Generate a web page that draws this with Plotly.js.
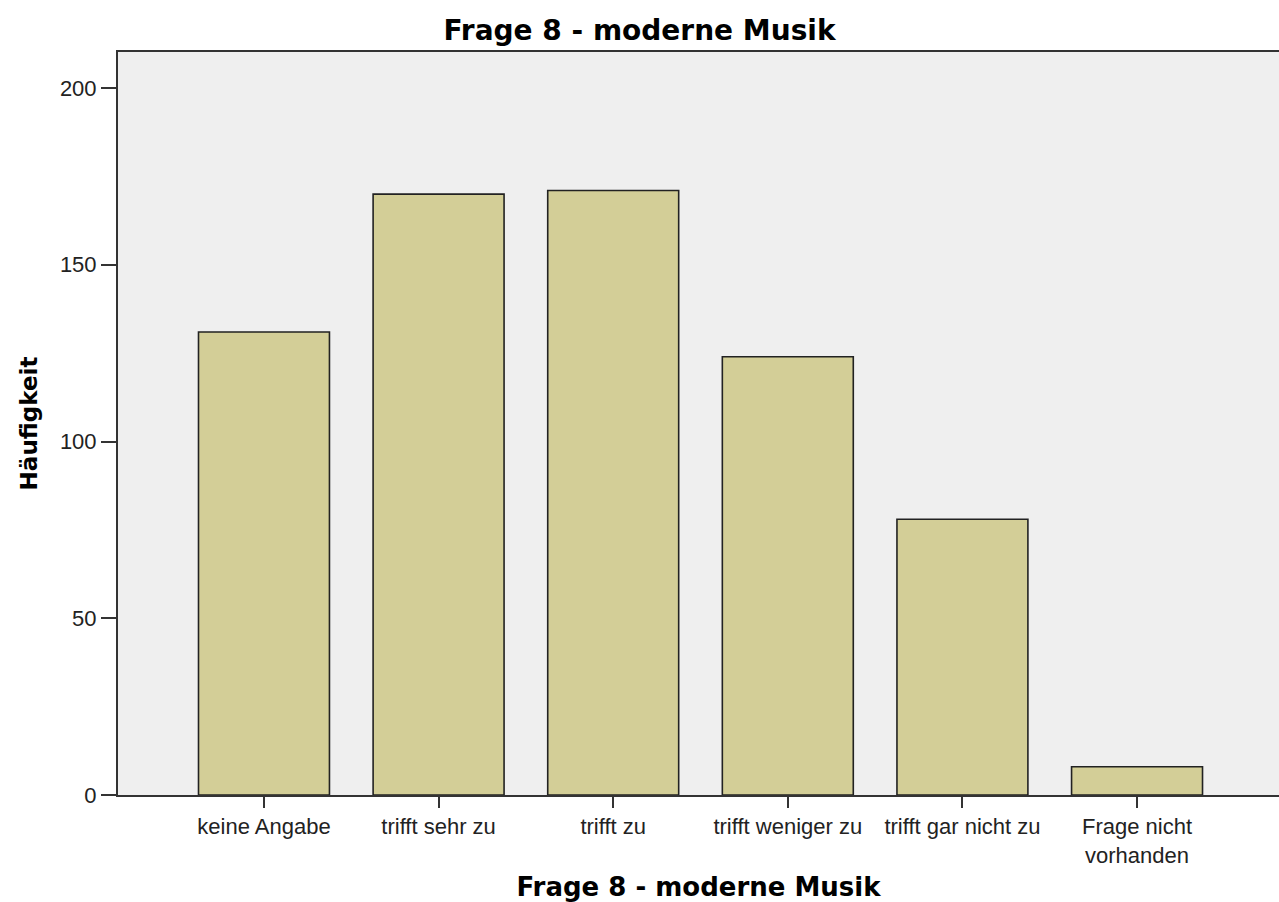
<!DOCTYPE html>
<html>
<head>
<meta charset="utf-8">
<script src="https://cdn.plot.ly/plotly-3.0.1.min.js"></script>
<style>
  html, body { margin: 0; padding: 0; background: #ffffff; }
  #chart { width: 1279px; height: 902px; }
</style>
</head>
<body>
<div id="chart"></div>
<script>
const categories = [
  "keine Angabe",
  "trifft sehr zu",
  "trifft zu",
  "trifft weniger zu",
  "trifft gar nicht zu",
  "Frage nicht<br>vorhanden"
];
const frequencies = [131, 170, 171, 124, 78, 8];
const yTickValues = [0, 50, 100, 150, 200];
const chartTitle = "Frage 8 - moderne Musik";
const xTitle = "Frage 8 - moderne Musik";
const yTitle = "Häufigkeit";

const trace = {
  type: "bar",
  x: categories,
  y: frequencies,
  width: 0.75,
  marker: {
    color: "#d3ce97",
    line: { color: "#222222", width: 1.6 }
  },
  hoverinfo: "x+y"
};

const layout = {
  width: 1279,
  height: 902,
  margin: { l: 118, r: 0, t: 52, b: 107, pad: 0 },
  paper_bgcolor: "#ffffff",
  plot_bgcolor: "#efefef",
  showlegend: false,
  title: {
    text: chartTitle,
    font: { family: "DejaVu Sans", size: 28, color: "#000000", weight: "bold" },
    x: 0.5, xanchor: "center", xref: "container",
    y: 1 - 30 / 902, yref: "container", yanchor: "middle"
  },
  xaxis: {
    type: "category",
    range: [-0.836, 5.813],
    showgrid: false,
    zeroline: false,
    showline: true,
    linecolor: "#333333",
    linewidth: 2,
    mirror: true,
    ticks: "outside",
    ticklen: 11,
    tickwidth: 1.5,
    tickcolor: "#333333",
    tickfont: { family: "Liberation Sans, Arial, sans-serif", size: 22, color: "#222222" },
    title: {
      text: xTitle,
      font: { family: "DejaVu Sans", size: 26, color: "#000000", weight: "bold" },
      standoff: 18
    },
    automargin: false
  },
  yaxis: {
    range: [0, 210.2],
    tickvals: yTickValues,
    ticktext: yTickValues.map(String),
    showgrid: false,
    zeroline: false,
    showline: true,
    linecolor: "#333333",
    linewidth: 2,
    ticks: "outside",
    ticklen: 15,
    tickwidth: 1.5,
    tickcolor: "#333333",
    tickfont: { family: "Liberation Sans, Arial, sans-serif", size: 22, color: "#222222" },
    title: {
      text: yTitle,
      font: { family: "DejaVu Sans", size: 23, color: "#000000", weight: "bold" },
      standoff: 16
    },
    automargin: false
  },
  bargap: 0.25
};

Plotly.newPlot("chart", [trace], layout, { displayModeBar: false, responsive: false });
</script>
</body>
</html>
